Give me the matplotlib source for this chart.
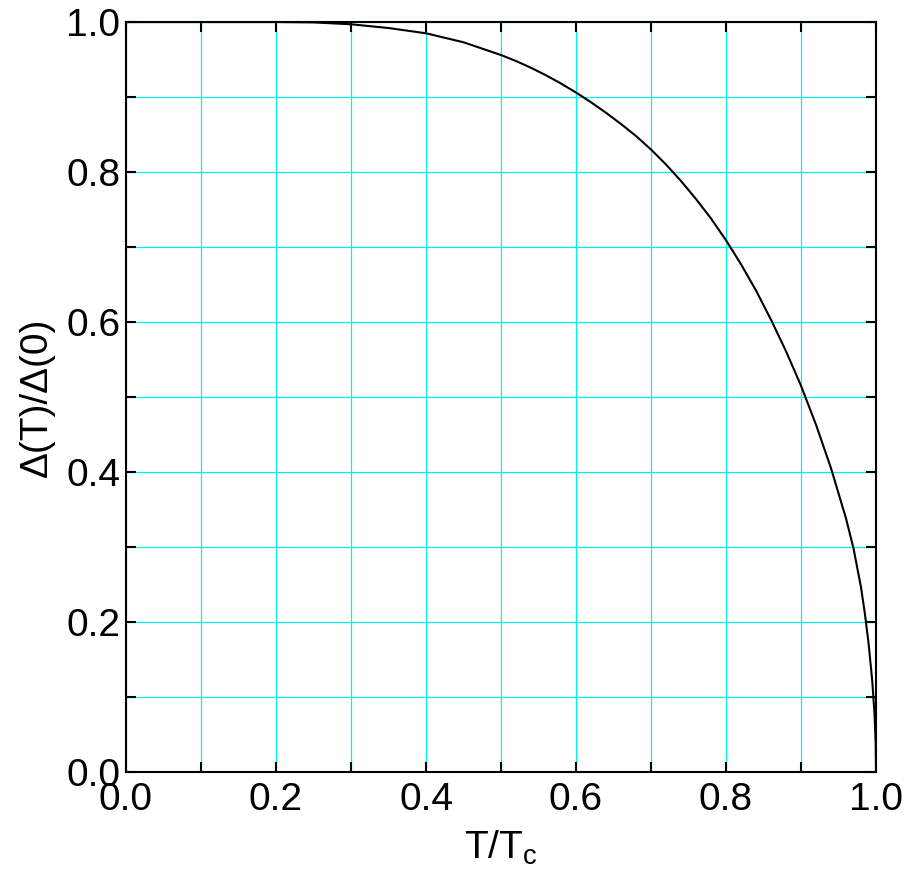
import numpy as np
import matplotlib
matplotlib.use("Agg")
import matplotlib.pyplot as plt
from matplotlib.ticker import MultipleLocator

# reduced temperature T/Tc and gap ratio
t_ratio = [0.0, 0.1, 0.2, 0.25, 0.3, 0.35, 0.4, 0.45, 0.5, 0.52, 0.54, 0.56,
           0.58, 0.6, 0.62, 0.64, 0.66, 0.68, 0.7, 0.72, 0.74, 0.76, 0.78,
           0.8, 0.82, 0.84, 0.86, 0.88, 0.9, 0.92, 0.94, 0.96, 0.97, 0.98,
           0.985, 0.99, 0.995, 0.998, 0.9995, 1.0]
gap_ratio = [1.0, 1.0, 1.0, 0.9995, 0.997, 0.992, 0.985, 0.973, 0.956, 0.948,
             0.939, 0.929, 0.918, 0.906, 0.893, 0.879, 0.864, 0.848, 0.830,
             0.810, 0.788, 0.764, 0.738, 0.709, 0.677, 0.642, 0.603, 0.561,
             0.515, 0.463, 0.405, 0.338, 0.298, 0.246, 0.212, 0.172, 0.121,
             0.077, 0.039, 0.0]

plt.rcParams['font.family'] = ['Liberation Sans', 'DejaVu Sans']

fig = plt.figure(figsize=(9.05, 8.81), dpi=100)
ax = fig.add_axes([0.1392, 0.1237, 0.8288, 0.8513])

ax.plot(t_ratio, gap_ratio, color='black', linewidth=1.5, zorder=3)

ax.set_xlim(0, 1)
ax.set_ylim(0, 1)
ax.xaxis.set_major_locator(MultipleLocator(0.2))
ax.xaxis.set_minor_locator(MultipleLocator(0.1))
ax.yaxis.set_major_locator(MultipleLocator(0.2))
ax.yaxis.set_minor_locator(MultipleLocator(0.1))

ax.grid(True, which='both', color='#00f0f0', linewidth=0.9)
ax.set_axisbelow(True)

ax.tick_params(which='both', direction='in', top=True, right=True,
               length=7, width=1.5, labelsize=28)
ax.tick_params(axis='x', pad=7)
ax.tick_params(axis='y', pad=4)
for s in ax.spines.values():
    s.set_linewidth(1.5)

ax.set_xlabel(r'T/T$_\mathregular{c}$', fontsize=28, labelpad=8)
ax.set_ylabel('\u0394(T)/\u0394(0)', fontsize=28, labelpad=8)

fig.savefig('out.png', dpi=100)
